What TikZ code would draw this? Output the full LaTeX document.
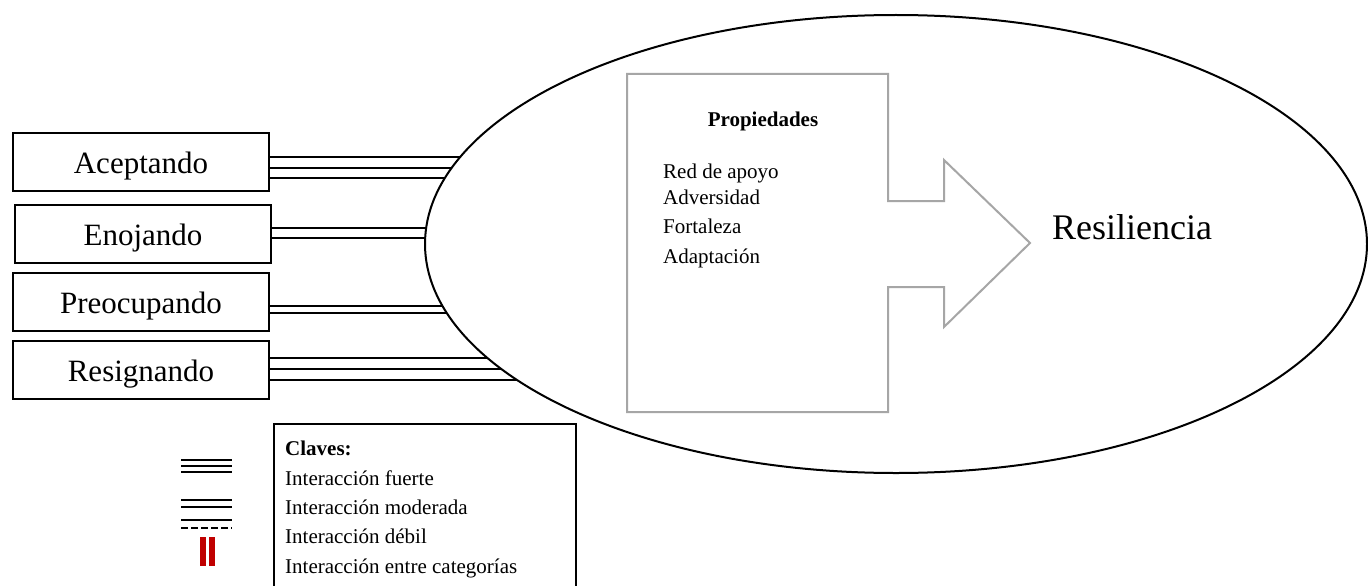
\documentclass[tikz,border=0pt]{standalone}
\usepackage{fontspec}
\setmainfont{Liberation Serif}
\usetikzlibrary{shapes.geometric,backgrounds}
\definecolor{propgray}{HTML}{A6A6A6}
\definecolor{keyred}{HTML}{C00000}
\begin{document}
\begin{tikzpicture}[x=1pt,y=-1pt,
  catbox/.style={draw,line width=2pt,minimum width=256pt,minimum height=58pt,inner sep=0pt,
                 text height=22pt,text depth=0pt,
                 font=\fontsize{31}{36}\selectfont},
  link/.style={line width=2pt},
  propline/.style={draw=propgray,line width=2pt},
  small/.style={inner sep=0pt,font=\fontsize{21}{25}\selectfont},
  keyline/.style={line width=2pt}]
\useasboundingbox (0,0) rectangle (1368,586);

% central ellipse
\node[draw,fill=white,ellipse,line width=2pt,inner sep=0pt,
      minimum width=942pt,minimum height=458pt] (res) at (896,244) {};

% category boxes
\node[catbox] (acep) at (141,162) {Aceptando};
\node[catbox] (enoj) at (143,234) {Enojando};
\node[catbox] (preo) at (141,302) {Preocupando};
\node[catbox] (resg) at (141,370) {Resignando};

% interaction lines, hidden behind the ellipse fill
\begin{pgfonlayer}{background}
  \foreach \dy in {-16,-6,5}
    \draw[link] ([yshift=\dy]acep.east) -- ([yshift=\dy]acep.east -| res.center);
  \foreach \dy in {-4,6}
    \draw[link] ([yshift=\dy]enoj.east) -- ([yshift=\dy]enoj.east -| res.center);
  \foreach \dy in {-11,-4}
    \draw[link] ([yshift=\dy]preo.east) -- ([yshift=\dy]preo.east -| res.center);
  \foreach \dy in {-10,1,12}
    \draw[link] ([yshift=\dy]resg.east) -- ([yshift=\dy]resg.east -| res.center);
\end{pgfonlayer}

% properties box with the arrow
\draw[propline] (627,74) -- (888,74) -- (888,201) -- (944,201) -- (944,160)
  -- (1030,243) -- (944,327) -- (944,287) -- (888,287) -- (888,412)
  -- (627,412) -- cycle;
\node[small,anchor=base,font=\fontsize{21}{25}\selectfont\bfseries] (prop) at (763,126) {Propiedades};
\node[small,anchor=base west] (p1) at (663,178) {Red de apoyo};
\node[small,anchor=base west] (p2) at (663,204) {Adversidad};
\node[small,anchor=base west] (p3) at (663,233) {Fortaleza};
\node[small,anchor=base west] (p4) at (663,263) {Adaptación};

\node[inner sep=0pt,anchor=base west,font=\fontsize{36}{42}\selectfont] (resl) at (1052,239) {Resiliencia};

% key
\draw[line width=2pt] (274,600) -- (274,424) -- (576,424) -- (576,600);
\node[small,anchor=base west,font=\fontsize{21}{25}\selectfont\bfseries] (k0) at (285,455) {Claves:};
\node[small,anchor=base west] (k1) at (285,485) {Interacción fuerte};
\node[small,anchor=base west] (k2) at (285,514) {Interacción moderada};
\node[small,anchor=base west] (k3) at (285,543) {Interacción débil};
\node[small,anchor=base west] (k4) at (285,573) {Interacción entre categorías};

\foreach \yy in {460,466,472}
  \draw[keyline] (181,\yy) -- (232,\yy);
\foreach \yy in {500,507,520}
  \draw[keyline] (181,\yy) -- (232,\yy);
\draw[keyline,dash pattern=on 7pt off 3pt] (181,528) -- (232,528);
\fill[keyred] (200,537) rectangle (206,566);
\fill[keyred] (209,537) rectangle (215,566);
\end{tikzpicture}
\end{document}
